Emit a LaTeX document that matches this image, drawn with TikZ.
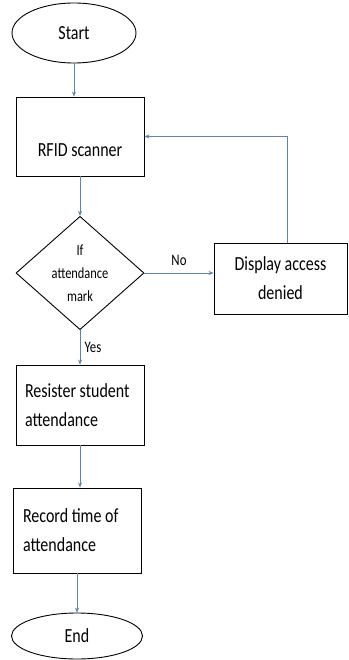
\documentclass[tikz,border=0pt]{standalone}
\usepackage{fontspec}
\setmainfont[FakeStretch=0.8]{Carlito}
\usetikzlibrary{shapes.geometric,arrows.meta}
\definecolor{flowblue}{HTML}{5B84B1}
\begin{document}
\begin{tikzpicture}[x=1pt,y=-1pt,
    box/.style={draw,line width=0.9pt,rectangle,inner sep=0pt,
      font=\fontsize{20}{29}\selectfont},
    term/.style={draw,line width=0.9pt,ellipse,inner sep=0pt,
      font=\fontsize{20}{22}\selectfont},
    test/.style={draw,line width=0.9pt,diamond,inner sep=0pt,align=center,
      minimum width=128pt,minimum height=110pt,
      font=\fontsize{15.5}{23}\selectfont},
    flow/.style={draw=flowblue,line width=0.6pt,
      -{Stealth[length=5pt,width=4pt]}},
    tag/.style={font=\fontsize{16}{18}\selectfont}]
    \useasboundingbox (0,0) rectangle (348,660);
    \node[term,minimum width=124pt,minimum height=60pt] (A0_0) at (74,33) {Start};
    \node[box,minimum width=128pt,minimum height=79pt,
      text height=45pt,text depth=4pt] (A1_0) at (80,136.5) {RFID scanner};
    \node[test] (A2_0) at (80,273) {If\\attendance\\mark};
    \node[box,minimum width=133pt,minimum height=71pt,align=center] (A2_1) at (280.5,278.5) {Display access\\denied};
    \node[box,minimum width=128pt,minimum height=80pt,text width=110pt,align=flush left] (A3_0) at (80,405) {Resister student\\attendance};
    \node[box,minimum width=128pt,minimum height=85pt,text width=108pt,align=flush left] (A4_0) at (77,530.5) {Record time of\\attendance};
    \node[term,minimum width=131pt,minimum height=46pt] (A5_0) at (77,636) {End};
    \path (A0_0.south) edge [flow] (A0_0.south |- A1_0.north);
    \path (A1_0) edge [flow] (A2_0);
    \path (A2_0.east) edge [flow] node [tag,above=4pt] {No} (A2_0.east -| A2_1.west);
    \draw [flow] ([xshift=7pt]A2_1.north) |- (A1_0.east);
    \path (A2_0.south) edge [flow] node [tag,right=1pt] {Yes} (A3_0.north);
    \path (A3_0.south) edge [flow] (A3_0.south |- A4_0.north);
    \path (A4_0.south) edge [flow] (A5_0.north);
\end{tikzpicture}
\end{document}
